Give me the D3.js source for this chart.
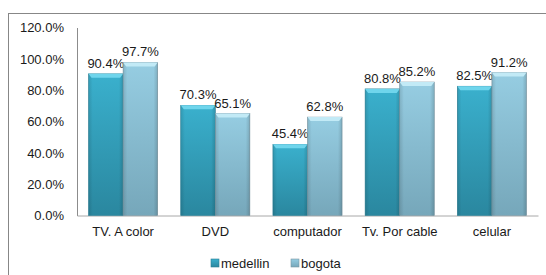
<!DOCTYPE html>
<html>
<head>
<meta charset="utf-8">
<script src="https://cdn.jsdelivr.net/npm/d3@7"></script>
<style>
  body { margin: 0; background: #fff; }
  text { font-family: "Liberation Sans", Arial, sans-serif; fill: #1a1a1a; }
</style>
</head>
<body>
<div id="chart"></div>
<script>
// Chart data
const categories = ["TV. A color", "DVD", "computador", "Tv. Por cable", "celular"];
const seriesNames = ["medellin", "bogota"];
const medellin = [90.4, 70.3, 45.4, 80.8, 82.5];
const bogota = [97.7, 65.1, 62.8, 85.2, 91.2];
const yTicks = [0, 20, 40, 60, 80, 100, 120];

const w = 546;
const h = 275;
const plotLeft = 77;
const plotRight = 538;
const plotTop = 27.5;
const plotBottom = 215.5;

// Bar styles: body gradient top/bottom, bevel, edge
const styles = [
  { top: "#3ab0cd", bottom: "#2a879f", bevel: "#6fd5ec", edge: "#2a7f95" },
  { top: "#96cde2", bottom: "#76a7ba", bevel: "#c2eaf6", edge: "#7a96a2" }
];

const svg = d3.select("#chart")
  .append("svg")
  .attr("width", w)
  .attr("height", h);

const defs = svg.append("defs");
styles.forEach(function (s, i) {
  const g = defs.append("linearGradient")
    .attr("id", "grad" + i)
    .attr("x1", 0).attr("y1", 0).attr("x2", 0).attr("y2", 1);
  g.append("stop").attr("offset", "0%").attr("stop-color", s.top);
  g.append("stop").attr("offset", "100%").attr("stop-color", s.bottom);
  const hg = defs.append("linearGradient")
    .attr("id", "side" + i)
    .attr("x1", 0).attr("y1", 0).attr("x2", 1).attr("y2", 0);
  hg.append("stop").attr("offset", "0%").attr("stop-color", "#000").attr("stop-opacity", 0.12);
  hg.append("stop").attr("offset", "12%").attr("stop-color", "#000").attr("stop-opacity", 0);
  hg.append("stop").attr("offset", "88%").attr("stop-color", "#000").attr("stop-opacity", 0);
  hg.append("stop").attr("offset", "100%").attr("stop-color", "#000").attr("stop-opacity", 0.15);
});

// Outer border (cropped on the right and bottom)
svg.append("rect")
  .attr("x", 8.5).attr("y", 13.5)
  .attr("width", 700).attr("height", 400)
  .attr("fill", "none")
  .attr("stroke", "#878787");

// Scales
const x0 = d3.scaleBand()
  .domain(categories)
  .range([plotLeft, plotRight])
  .paddingInner(0.25)
  .paddingOuter(0.125);

const x1 = d3.scaleBand()
  .domain(seriesNames)
  .range([0, x0.bandwidth()]);

const y = d3.scaleLinear()
  .domain([0, 120])
  .range([plotBottom, plotTop]);

const fmt = d => d3.format(".1f")(d) + "%";

// Axes
const yAxis = d3.axisLeft(y).tickValues(yTicks).tickSize(0).tickPadding(13).tickFormat(fmt);
const gy = svg.append("g")
  .attr("transform", "translate(" + plotLeft + ",0)")
  .call(yAxis);
gy.select(".domain").attr("stroke", "#8c8c8c");
gy.selectAll("text").style("font-size", "13px").attr("fill", "#1a1a1a");

const xAxis = d3.axisBottom(x0).tickSize(0).tickPadding(11);
const gx = svg.append("g")
  .attr("transform", "translate(0," + plotBottom + ")")
  .call(xAxis);
gx.select(".domain").attr("stroke", "#a8a8a8");
gx.selectAll("text").style("font-size", "13px").attr("fill", "#1a1a1a");

// Bars
const rows = categories.map((c, i) => ({ cat: c, vals: [medellin[i], bogota[i]] }));

const groups = svg.selectAll(".grp")
  .data(rows)
  .enter()
  .append("g")
  .attr("class", "grp")
  .attr("transform", d => "translate(" + x0(d.cat) + ",0)");

const bars = groups.selectAll(".bar")
  .data(d => d.vals.map((v, j) => ({ v: v, j: j })))
  .enter()
  .append("g")
  .attr("class", "bar");

bars.append("rect")
  .attr("x", d => x1(seriesNames[d.j]))
  .attr("y", d => y(d.v))
  .attr("width", x1.bandwidth())
  .attr("height", d => y(0) - y(d.v))
  .attr("fill", d => "url(#grad" + d.j + ")")
  .attr("stroke", d => styles[d.j].edge)
  .attr("stroke-width", 0.6);

bars.append("rect")
  .attr("x", d => x1(seriesNames[d.j]))
  .attr("y", d => y(d.v))
  .attr("width", x1.bandwidth())
  .attr("height", d => y(0) - y(d.v))
  .attr("fill", d => "url(#side" + d.j + ")");

// Top bevel
bars.append("path")
  .attr("d", function (d) {
    const xa = x1(seriesNames[d.j]);
    const xb = xa + x1.bandwidth();
    const yt = y(d.v);
    return "M" + xa + "," + yt + "L" + xb + "," + yt +
           "L" + (xb - 3) + "," + (yt + 4) + "L" + (xa + 3) + "," + (yt + 4) + "Z";
  })
  .attr("fill", d => styles[d.j].bevel);

// Value labels
bars.append("text")
  .attr("x", d => x1(seriesNames[d.j]) + x1.bandwidth() / 2)
  .attr("y", d => y(d.v) - 6)
  .attr("text-anchor", "middle")
  .style("font-size", "13px")
  .text(d => fmt(d.v));

// Legend
const legendX = [211, 291];
const legend = svg.selectAll(".leg")
  .data(seriesNames)
  .enter()
  .append("g")
  .attr("class", "leg")
  .attr("transform", (d, i) => "translate(" + legendX[i] + ",259)");

legend.append("rect")
  .attr("width", 8).attr("height", 8)
  .attr("fill", (d, i) => "url(#grad" + i + ")")
  .attr("stroke", (d, i) => styles[i].edge)
  .attr("stroke-width", 0.6);

legend.append("text")
  .attr("x", 10)
  .attr("y", 8.5)
  .style("font-size", "13px")
  .text(d => d);
</script>
</body>
</html>
